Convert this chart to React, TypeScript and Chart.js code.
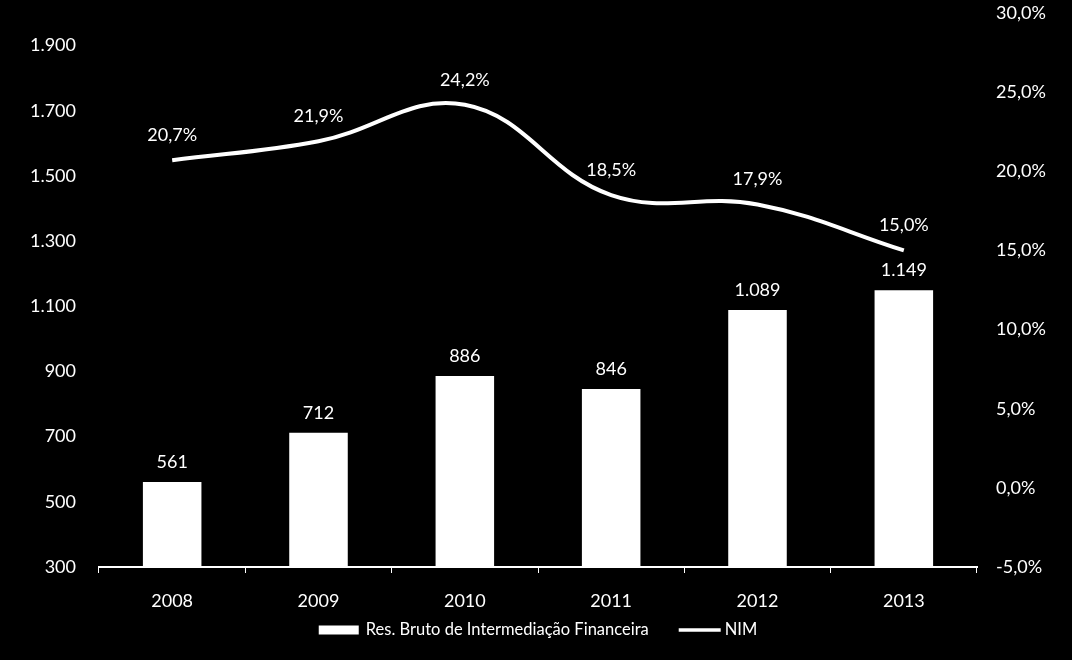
import React, { useEffect, useRef } from "react";
import { Chart, registerables } from "chart.js";

Chart.register(...registerables);

const categories = ["2008", "2009", "2010", "2011", "2012", "2013"];
const resBruto = [561, 712, 886, 846, 1089, 1149];
const nim = [20.7, 21.9, 24.2, 18.5, 17.9, 15.0];
const leftTicks = [300, 500, 700, 900, 1100, 1300, 1500, 1700, 1900];
const rightTicks = [-5, 0, 5, 10, 15, 20, 25, 30];
const seriesNames = ["Res. Bruto de Intermediação Financeira", "NIM"];

const FONT = "Lato";

function fmtThousands(v: number): string {
  const s = Math.round(v).toString();
  return s.replace(/\B(?=(\d{3})+(?!\d))/g, ".");
}
function fmtPct(v: number): string {
  return v.toFixed(1).replace(".", ",") + "%";
}

const dataLabelPlugin = {
  id: "dataLabels",
  afterDatasetsDraw(chart: any) {
    const ctx = chart.ctx;
    ctx.save();
    ctx.fillStyle = "#ffffff";
    ctx.font = `18px ${FONT}`;
    ctx.textAlign = "center";
    ctx.textBaseline = "middle";
    chart.data.datasets.forEach((ds: any, i: number) => {
      const meta = chart.getDatasetMeta(i);
      meta.data.forEach((el: any, j: number) => {
        const v = ds.data[j];
        if (ds.type === "bar") {
          ctx.fillText(fmtThousands(v), el.x, el.y - 20);
        } else {
          ctx.fillText(fmtPct(v), el.x, el.y - 25);
        }
      });
    });
    ctx.restore();
  },
};

const legendPlugin = {
  id: "customLegend",
  afterDraw(chart: any) {
    const ctx = chart.ctx;
    const area = chart.chartArea;
    ctx.save();
    ctx.font = `16.5px ${FONT}`;
    ctx.fillStyle = "#ffffff";
    ctx.strokeStyle = "#ffffff";
    ctx.textBaseline = "middle";
    ctx.textAlign = "left";
    const w1 = ctx.measureText(chart.data.datasets[0].label).width;
    const w2 = ctx.measureText(chart.data.datasets[1].label).width;
    const total = 40 + 7 + w1 + 30 + 42 + 4 + w2;
    let x = (area.left + area.right) / 2 - total / 2;
    const y = area.bottom + 63;
    ctx.fillRect(x, y - 4.5, 40, 9);
    x += 47;
    ctx.fillText(chart.data.datasets[0].label, x, y);
    x += w1 + 30;
    ctx.lineWidth = 3.5;
    ctx.beginPath();
    ctx.moveTo(x, y);
    ctx.lineTo(x + 42, y);
    ctx.stroke();
    x += 46;
    ctx.fillText(chart.data.datasets[1].label, x, y);
    ctx.restore();
  },
};

export default function App() {
  const ref = useRef<HTMLCanvasElement | null>(null);
  useEffect(() => {
    document.body.style.margin = "0";
    document.body.style.background = "#000";
    const chart = new Chart(ref.current as HTMLCanvasElement, {
      data: {
        labels: categories,
        datasets: [
          {
            type: "bar",
            label: seriesNames[0],
            data: resBruto,
            backgroundColor: "#ffffff",
            borderWidth: 0,
            yAxisID: "y",
            barPercentage: 0.4,
            categoryPercentage: 1,
          } as any,
          {
            type: "line",
            label: seriesNames[1],
            data: nim,
            borderColor: "#ffffff",
            backgroundColor: "#ffffff",
            borderWidth: 4,
            pointRadius: 0,
            tension: 0.4,
            yAxisID: "y1",
          } as any,
        ],
      },
      options: {
        responsive: false,
        animation: false,
        layout: { padding: { top: 13, bottom: 31.4, left: 0, right: 0 } },
        plugins: {
          tooltip: { enabled: false },
          legend: { display: false },
        },
        scales: {
          x: {
            offset: true,
            grid: {
              display: true,
              drawOnChartArea: false,
              drawTicks: true,
              tickLength: 6,
              color: "#ffffff",
              offset: true,
            },
            border: { display: true, color: "#ffffff", width: 2 },
            ticks: {
              color: "#ffffff",
              font: { family: FONT, size: 18 },
              padding: 17,
            },
          },
          y: {
            position: "left",
            min: 300,
            max: 2000,
            grid: { display: false },
            border: { display: false },
            afterBuildTicks: (scale: any) => {
              scale.ticks = leftTicks.map((v) => ({ value: v }));
            },
            afterFit: (scale: any) => {
              scale.width = 99;
              scale.paddingTop = 0;
              scale.paddingBottom = 0;
            },
            ticks: {
              color: "#ffffff",
              font: { family: FONT, size: 18 },
              padding: 15,
              callback: (v: any) => fmtThousands(Number(v)),
            },
          },
          y1: {
            position: "right",
            min: -5,
            max: 30,
            grid: { display: false },
            border: { display: false },
            afterBuildTicks: (scale: any) => {
              scale.ticks = rightTicks.map((v) => ({ value: v }));
            },
            afterFit: (scale: any) => {
              scale.width = 95;
              scale.paddingTop = 0;
              scale.paddingBottom = 0;
            },
            ticks: {
              color: "#ffffff",
              font: { family: FONT, size: 18 },
              padding: 11,
              callback: (v: any) => fmtPct(Number(v)),
            },
          },
        },
      },
      plugins: [dataLabelPlugin, legendPlugin],
    } as any);
    return () => chart.destroy();
  }, []);
  return (
    <div style={{ width: 1072, height: 660, background: "#000" }}>
      <canvas ref={ref} width={1072} height={660} />
    </div>
  );
}
